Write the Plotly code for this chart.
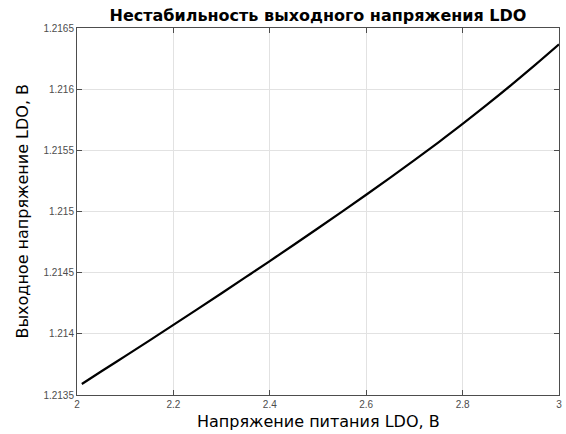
import plotly.graph_objects as go

supply_v = [2.01, 2.05, 2.1, 2.15, 2.2, 2.25, 2.3, 2.35, 2.4, 2.45, 2.5,
            2.55, 2.6, 2.65, 2.7, 2.75, 2.8, 2.85, 2.9, 2.95, 3.0]
out_v = [1.213590, 1.213692, 1.213818, 1.213945, 1.214073, 1.214202,
         1.214332, 1.214463, 1.214595, 1.214728, 1.214863, 1.214999,
         1.215137, 1.215277, 1.215420, 1.215566, 1.215716, 1.215871,
         1.216031, 1.216196, 1.216366]

x_ticks = [2, 2.2, 2.4, 2.6, 2.8, 3]
x_tick_text = ["2", "2.2", "2.4", "2.6", "2.8", "3"]
y_ticks = [1.2135, 1.214, 1.2145, 1.215, 1.2155, 1.216, 1.2165]
y_tick_text = ["1.2135", "1.214", "1.2145", "1.215", "1.2155", "1.216", "1.2165"]

fig = go.Figure()
fig.add_trace(go.Scatter(x=supply_v, y=out_v, mode="lines",
                         line=dict(color="black", width=2.2, shape="spline")))

axis_common = dict(
    showline=True, linecolor="#4d4d4d", linewidth=1, mirror="allticks",
    ticks="inside", ticklen=5, tickcolor="#4d4d4d",
    showgrid=True, gridcolor="#e2e2e2", gridwidth=1, zeroline=False,
    automargin=False, ticklabeloverflow="allow",
    tickfont=dict(family="Liberation Sans", size=10, color="#4d4d4d"),
)

fig.update_layout(
    width=566, height=434,
    margin=dict(l=77, r=7, t=28, b=39),
    plot_bgcolor="white", paper_bgcolor="white",
    showlegend=False,
    title=dict(text="<b>Нестабильность выходного напряжения LDO</b>",
               x=0.5, xanchor="center", xref="paper",
               y=0.9654, yref="container", yanchor="middle",
               font=dict(family="DejaVu Sans", size=16, color="black")),
    xaxis=dict(range=[2, 3], tickvals=x_ticks, ticktext=x_tick_text,
               **axis_common),
    yaxis=dict(range=[1.2135, 1.2165], tickvals=y_ticks, ticktext=y_tick_text,
               **axis_common),
    annotations=[
        dict(text="Напряжение питания LDO, В", xref="paper", yref="paper",
             x=0.5, y=-0.071, xanchor="center", yanchor="middle", showarrow=False,
             font=dict(family="DejaVu Sans", size=16, color="black")),
        dict(text="Выходное напряжение LDO, В", xref="paper", yref="paper",
             x=-0.114, y=0.5, xanchor="center", yanchor="middle", showarrow=False,
             textangle=-90,
             font=dict(family="DejaVu Sans", size=16, color="black")),
    ],
)

fig.write_html("out.html",
               config={"displayModeBar": False},
               post_script="document.body.style.margin='0';document.body.style.overflow='hidden';")
